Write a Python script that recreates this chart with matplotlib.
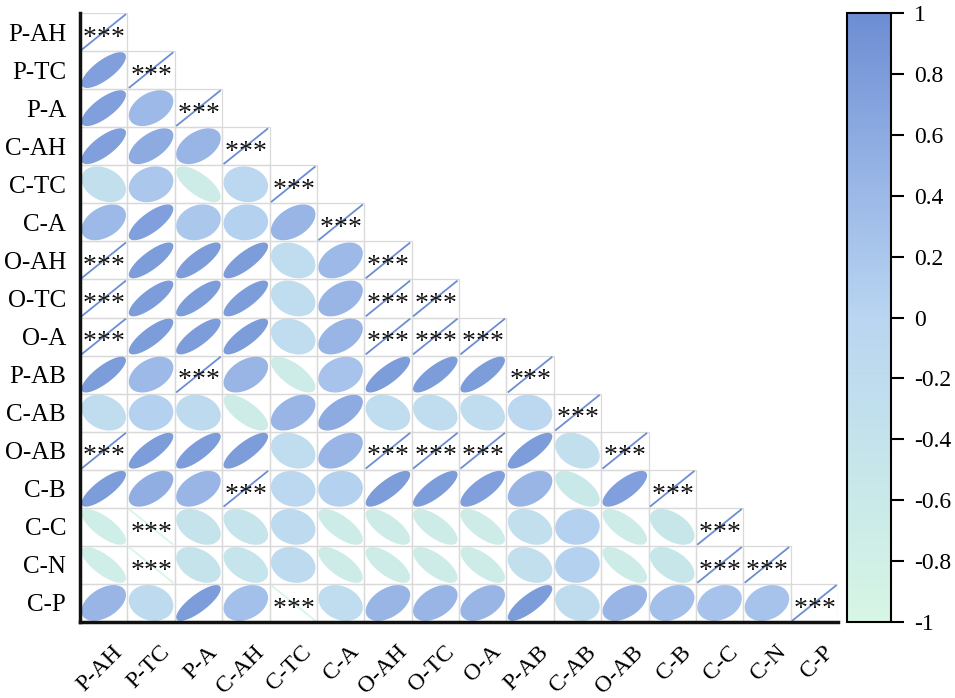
import numpy as np
import matplotlib
matplotlib.use("Agg")
import matplotlib.pyplot as plt
from matplotlib.colors import LinearSegmentedColormap, Normalize
from matplotlib.patches import Polygon, Rectangle
from matplotlib.colorbar import ColorbarBase
from matplotlib.transforms import ScaledTranslation

labels = ["P-AH", "P-TC", "P-A", "C-AH", "C-TC", "C-A", "O-AH", "O-TC",
          "O-A", "P-AB", "C-AB", "O-AB", "C-B", "C-C", "C-N", "C-P"]

# lower-triangle correlation values, row by row (including diagonal)
r_P_AH = [1]
r_P_TC = [0.75, 1]
r_P_A = [0.75, 0.40, 1]
r_C_AH = [0.75, 0.60, 0.45, 1]
r_C_TC = [-0.30, 0.20, -0.70, -0.10, 1]
r_C_A = [0.40, 0.75, 0.20, 0.05, 0.45, 1]
r_O_AH = [1, 0.80, 0.80, 0.80, -0.25, 0.40, 1]
r_O_TC = [1, 0.80, 0.80, 0.80, -0.25, 0.45, 1, 1]
r_O_A = [1, 0.80, 0.80, 0.80, -0.25, 0.45, 1, 1, 1]
r_P_AB = [0.80, 0.40, 1, 0.45, -0.70, 0.25, 0.80, 0.80, 0.80, 1]
r_C_AB = [-0.25, 0.05, -0.15, -0.70, 0.45, 0.60, -0.25, -0.25, -0.25, -0.10, 1]
r_O_AB = [1, 0.80, 0.80, 0.80, -0.25, 0.45, 1, 1, 1, 0.80, -0.30, 1]
r_C_B = [0.80, 0.55, 0.45, 1, -0.10, 0.05, 0.80, 0.80, 0.75, 0.45, -0.60, 0.75, 1]
r_C_C = [-0.75, -1, -0.40, -0.45, -0.15, -0.70, -0.70, -0.70, -0.70, -0.30, 0.05, -0.70, -0.50, 1]
r_C_N = [-0.75, -1, -0.40, -0.45, -0.15, -0.70, -0.70, -0.70, -0.70, -0.30, 0.05, -0.70, -0.50, 1, 1]
r_C_P = [0.45, -0.15, 0.80, 0.30, -1, -0.25, 0.45, 0.45, 0.45, 0.80, -0.20, 0.45, 0.30, 0.25, 0.25, 1]

rows = [r_P_AH, r_P_TC, r_P_A, r_C_AH, r_C_TC, r_C_A, r_O_AH, r_O_TC, r_O_A,
        r_P_AB, r_C_AB, r_O_AB, r_C_B, r_C_C, r_C_N, r_C_P]

cbar_ticks = [1, 0.8, 0.6, 0.4, 0.2, 0, -0.2, -0.4, -0.6, -0.8, -1]
cbar_labels = ["1", "0.8", "0.6", "0.4", "0.2", "0", "-0.2", "-0.4",
               "-0.6", "-0.8", "-1"]

cmap = LinearSegmentedColormap.from_list(
    "corr",
    [(0.0, "#d7f6e4"), (0.25, "#c6e6ea"), (0.5, "#b9d5f1"),
     (0.75, "#95b2e5"), (1.0, "#6d8dd3")])
norm = Normalize(-1, 1)

plt.rcParams["font.family"] = ["Liberation Serif", "DejaVu Serif"]

fig = plt.figure(figsize=(9.55, 6.98), dpi=100)
ax = fig.add_axes([80 / 955, 76 / 698, 758 / 955, 609 / 698])
n = len(labels)
ax.set_xlim(-0.5, n - 0.5)
ax.set_ylim(n - 0.5, -0.5)

s = 0.47
t = np.linspace(0, 2 * np.pi, 200)
for i, row in enumerate(rows):
    for j, r in enumerate(row):
        ax.add_patch(Rectangle((j - 0.5, i - 0.5), 1, 1, fill=False,
                               edgecolor="#d9d9d9", lw=0.9, zorder=1))
        col = cmap(norm(r))
        d = np.arccos(np.clip(r, -1, 1))
        xs = s * np.cos(t + d / 2)
        ys = s * np.cos(t - d / 2)
        if abs(r) >= 0.999:
            xl = np.array([-s, s])
            yl = np.array([-s, s]) * np.sign(r)
            ax.plot(j + xl, i - yl, color=col, lw=1.3, zorder=2,
                    solid_capstyle="butt")
            for dx in (-0.295, 0.0, 0.295):
                ax.text(j + dx, i + 0.335, "*", ha="center", va="baseline",
                        fontsize=20, color="#111111", zorder=3)
        else:
            ax.add_patch(Polygon(np.column_stack([j + xs, i - ys]),
                                 closed=True, facecolor=col,
                                 edgecolor="none", zorder=2))

ax.set_xticks(range(n))
ax.set_yticks(range(n))
ax.set_xticklabels(labels, rotation=45, ha="right", va="top",
                   rotation_mode="anchor", fontsize=17)
ax.set_yticklabels(labels, fontsize=18)
ax.tick_params(length=0, pad=10)
ax.tick_params(axis="x", pad=14)
offset = ScaledTranslation(8 / 100, 0, fig.dpi_scale_trans)
for lab in ax.get_xticklabels():
    lab.set_transform(lab.get_transform() + offset)
for side in ["top", "right"]:
    ax.spines[side].set_visible(False)
for side in ["left", "bottom"]:
    ax.spines[side].set_linewidth(2.5)
    ax.spines[side].set_color("#111111")

cax = fig.add_axes([847 / 955, 76 / 698, 44 / 955, 609 / 698])
cb = ColorbarBase(cax, cmap=cmap, norm=norm, orientation="vertical")
cb.set_ticks(cbar_ticks)
cb.set_ticklabels(cbar_labels)
cb.outline.set_linewidth(1.5)
cax.tick_params(length=9.5, width=1.5, labelsize=17, pad=7)

fig.savefig("out.png", dpi=100)
